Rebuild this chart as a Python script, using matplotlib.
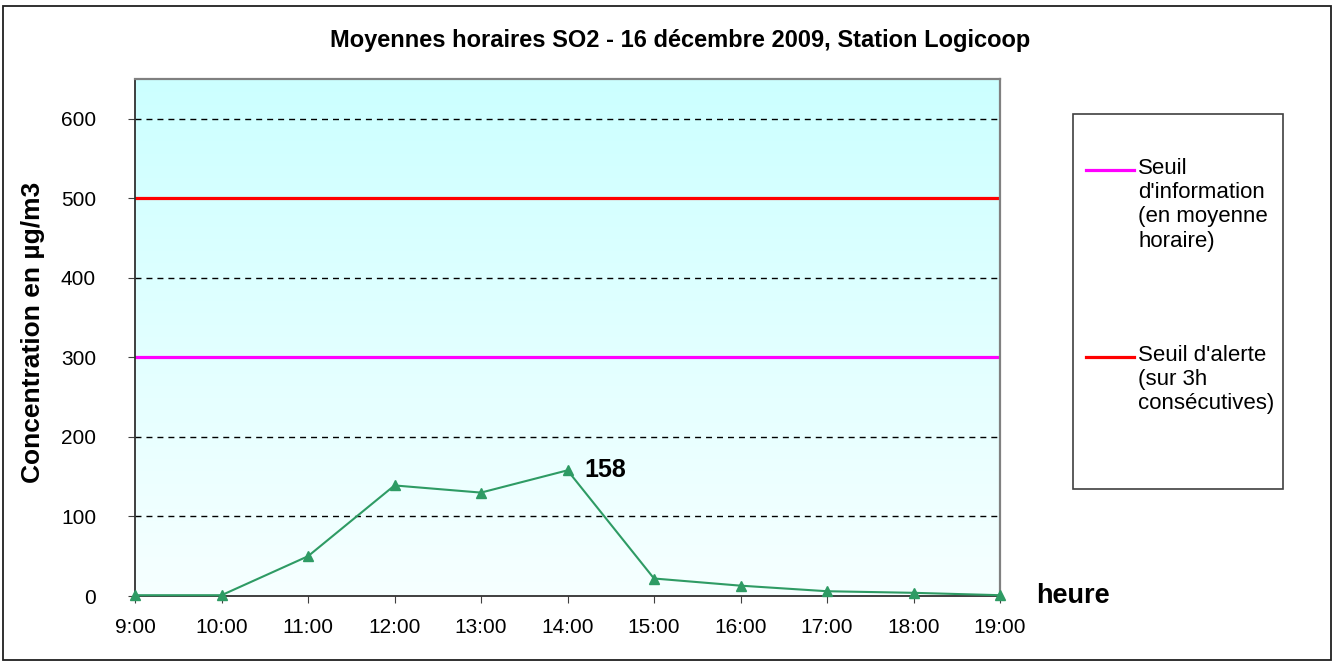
import numpy as np
import matplotlib
matplotlib.use('Agg')
import matplotlib.pyplot as plt
from matplotlib.patches import Rectangle
from matplotlib.lines import Line2D

plt.rcParams['font.family'] = ['Liberation Sans', 'DejaVu Sans']

# données
heures = ['9:00', '10:00', '11:00', '12:00', '13:00', '14:00', '15:00', '16:00', '17:00', '18:00', '19:00']
so2 = [1, 1, 50, 139, 130, 158, 22, 13, 6, 4, 1]
seuil_info = 300
seuil_alerte = 500
lbl_info = "Seuil\nd'information\n(en moyenne\nhoraire)"
lbl_alerte = "Seuil d'alerte\n(sur 3h\nconsécutives)"

W, H = 1337, 666
fig = plt.figure(figsize=(W / 100, H / 100), dpi=100)

def fx(px):
    return px / W

def fy(py):
    return 1 - py / H

# cadre extérieur
fig.patches.append(Rectangle((fx(3), fy(660)), fx(1331) - fx(3), fy(6) - fy(660),
                             transform=fig.transFigure, fill=False,
                             edgecolor='#202020', linewidth=1.3))

ax = fig.add_axes([fx(135), fy(596), fx(1000) - fx(135), fy(79) - fy(596)])
x = np.arange(len(heures))
ax.set_xlim(0, len(heures) - 1)
ax.set_ylim(0, 650)

# fond dégradé cyan -> blanc
grad = np.linspace(0, 1, 256).reshape(-1, 1, 1)
top = np.array([0.80, 1.0, 1.0])
bot = np.array([0.965, 1.0, 1.0])
img = bot + (top - bot) * grad
ax.imshow(img, extent=[0, len(heures) - 1, 0, 650], origin='lower', aspect='auto', zorder=0)

for yv in [100, 200, 400, 600]:
    ax.axhline(yv, color='black', linestyle=(0, (4.3, 3.6)), linewidth=1.0, zorder=1)

ax.axhline(seuil_info, color='#FF00FF', linewidth=2.3, zorder=2)
ax.axhline(seuil_alerte, color='#FF0000', linewidth=2.3, zorder=2)

ax.plot(x, so2, color='#2E9B64', linewidth=1.5, marker='^', markersize=7.5, zorder=4, clip_on=False)
ax.text(x[5] + 0.19, so2[5], str(so2[5]), fontsize=18, fontweight='bold', va='center', ha='left')

ax.set_xticks(x)
ax.set_xticklabels(heures, fontsize=15)
ax.set_yticks(np.arange(0, 700, 100))
ax.tick_params(axis='y', labelsize=15, direction='out', length=5, pad=23, color='#404040')
ax.tick_params(axis='x', direction='out', length=5, pad=11, color='#404040')

for s in ['top', 'right']:
    ax.spines[s].set_color('#808080')
    ax.spines[s].set_linewidth(1.6)
for s in ['left', 'bottom']:
    ax.spines[s].set_color('#303030')
    ax.spines[s].set_linewidth(1.3)

fig.text(fx(33), fy(332), 'Concentration en µg/m3', rotation=90, fontsize=19,
         fontweight='bold', ha='center', va='center')
ax.text(1.0416, 0.0, 'heure', transform=ax.transAxes, fontsize=19.5, fontweight='bold',
        va='center', ha='left')

fig.text(fx(680), fy(40), 'Moyennes horaires SO2 - 16 décembre 2009, Station Logicoop',
         fontsize=17, fontweight='bold', ha='center', va='center')

# légende dessinée à la main
fig.patches.append(Rectangle((fx(1073), fy(489)), fx(1283) - fx(1073), fy(114) - fy(489),
                             transform=fig.transFigure, facecolor='white',
                             edgecolor='#404040', linewidth=1.2))
for col, lbl, ly in [('#FF00FF', lbl_info, 170), ('#FF0000', lbl_alerte, 357)]:
    fig.lines.append(Line2D([fx(1086), fx(1134)], [fy(ly), fy(ly)], color=col,
                            linewidth=2.3, transform=fig.transFigure))
    fig.text(fx(1138), fy(ly - 12), lbl, fontsize=16, ha='left', va='top')

fig.savefig('out.png', dpi=100)
